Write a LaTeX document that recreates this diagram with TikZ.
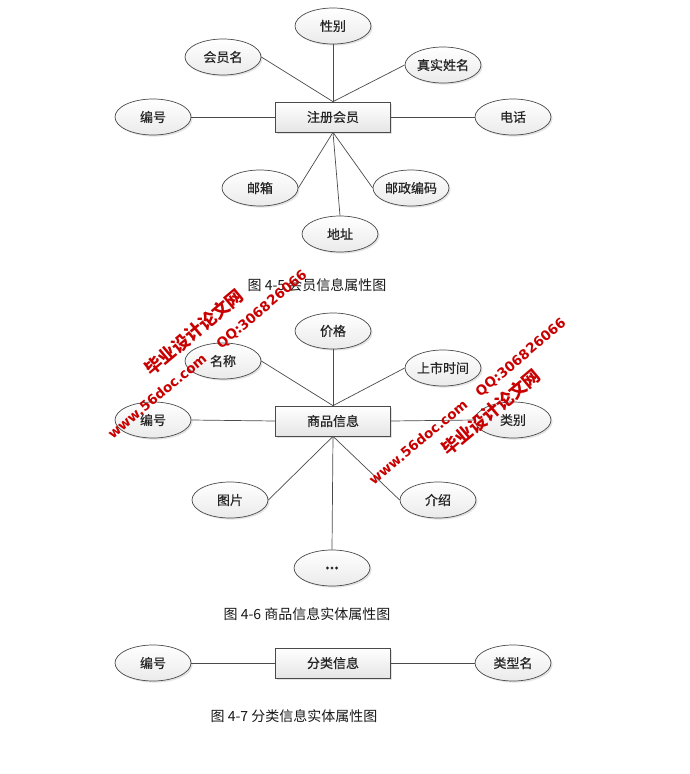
\documentclass[tikz,border=0pt]{standalone}
\usepackage{fontspec}
\setmainfont{Liberation Serif}
\newfontfamily\cjk{Noto Sans CJK SC}
\newfontfamily\cjknode[FakeBold=0.6]{Noto Sans CJK SC}
\newfontfamily\wmlatin{DejaVu Sans}
\usetikzlibrary{shapes.geometric,shadows}
\definecolor{edgegray}{HTML}{4A4A4A}
\definecolor{wmred}{HTML}{C80000}
\tikzset{
  attr/.style={ellipse, draw=edgegray, line width=0.7pt, top color=white, bottom color=gray!16,
    minimum width=76pt, minimum height=36pt, inner sep=0pt, font=\cjknode\fontsize{13}{13}\selectfont, text=black!85,
    drop shadow={opacity=0.22, shadow xshift=1.6pt, shadow yshift=-1.6pt}},
  ent/.style={rectangle, draw=edgegray, line width=0.7pt, top color=white, bottom color=gray!20,
    minimum width=115pt, minimum height=30pt, inner sep=0pt, font=\cjknode\fontsize{13}{13}\selectfont, text=black!85,
    drop shadow={opacity=0.22, shadow xshift=1.6pt, shadow yshift=-1.6pt}},
  link/.style={draw=edgegray, line width=0.7pt},
  figcap/.style={font=\cjk\fontsize{14}{14}\selectfont, text=black!90, inner sep=0pt},
  wmcn/.style={font=\cjk\bfseries\fontsize{17.5}{17.5}\selectfont, text=wmred, rotate=40, inner sep=0pt},
  wmen/.style={font=\wmlatin\bfseries\fontsize{13.5}{13.5}\selectfont, text=wmred, rotate=40, inner sep=0pt}
}
\begin{document}
\begin{tikzpicture}[x=1pt,y=-1pt]
\useasboundingbox[fill=white] (0,0) rectangle (690,774);

% ---------- Figure 4-5 ----------
\node[ent]  (r1)   at (333,117) {注册会员};
\node[attr] (xb)   at (333,26)  {性别};
\node[attr] (hym)  at (223,57)  {会员名};
\node[attr] (zsxm) at (443,65)  {真实姓名};
\node[attr] (bh1)  at (153,117) {编号};
\node[attr] (dh)   at (513,117) {电话};
\node[attr] (yx)   at (260,188) {邮箱};
\node[attr] (dz)   at (340,234) {地址};
\node[attr] (yzbm) at (411,188) {邮政编码};
\draw[link] (r1.north) -- (xb.south);
\draw[link] (r1.north) -- (hym.east);
\draw[link] (r1.north) -- (zsxm.west);
\draw[link] (r1.west) -- (bh1.east);
\draw[link] (r1.east) -- (dh.west);
\draw[link] (r1.south) -- (yx.east);
\draw[link] (r1.south) -- (dz.north);
\draw[link] (r1.south) -- (yzbm.west);
\node[figcap] (c1) at (317,285) {图 4-5 会员信息属性图};

% ---------- Figure 4-6 ----------
\node[ent]  (r2)   at (333,421) {商品信息};
\node[attr] (jg)   at (333,331) {价格};
\node[attr] (mc)   at (223,361) {名称};
\node[attr] (sssj) at (443,368) {上市时间};
\node[attr] (bh2)  at (153,420) {编号};
\node[attr] (lb)   at (513,420) {类别};
\node[attr] (tp)   at (230,500) {图片};
\node[attr] (js)   at (438,500) {介绍};
\node[attr] (dots) at (332,568) {\textbf{...}};
\draw[link] (r2.north) -- (jg.south);
\draw[link] (r2.north) -- (mc.east);
\draw[link] (r2.north) -- (sssj.west);
\draw[link] (r2.west) -- (bh2.east);
\draw[link] (r2.east) -- (lb.west);
\draw[link] (r2.south) -- (tp.east);
\draw[link] (r2.south) -- (dots.north);
\draw[link] (r2.south) -- (js.west);
\node[figcap] (c2) at (307,614) {图 4-6 商品信息实体属性图};

% ---------- Figure 4-7 ----------
\node[ent]  (r3)  at (333,663) {分类信息};
\node[attr] (bh3) at (153,663) {编号};
\node[attr] (lxm) at (513,663) {类型名};
\draw[link] (r3.west) -- (bh3.east);
\draw[link] (r3.east) -- (lxm.west);
\node[figcap] (c3) at (294,716) {图 4-7 分类信息实体属性图};

% ---------- Watermarks ----------
\node[wmen] (w1) at (157,396) {www.56doc.com};
\node[wmcn] (w2) at (194,332) {毕业设计论文网};
\node[wmen] (w3) at (262,310) {QQ:306826066};
\node[wmen] (w4) at (418,442) {www.56doc.com};
\node[wmcn] (w5) at (491,412) {毕业设计论文网};
\node[wmen] (w6) at (521,358) {QQ:306826066};
\end{tikzpicture}
\end{document}
